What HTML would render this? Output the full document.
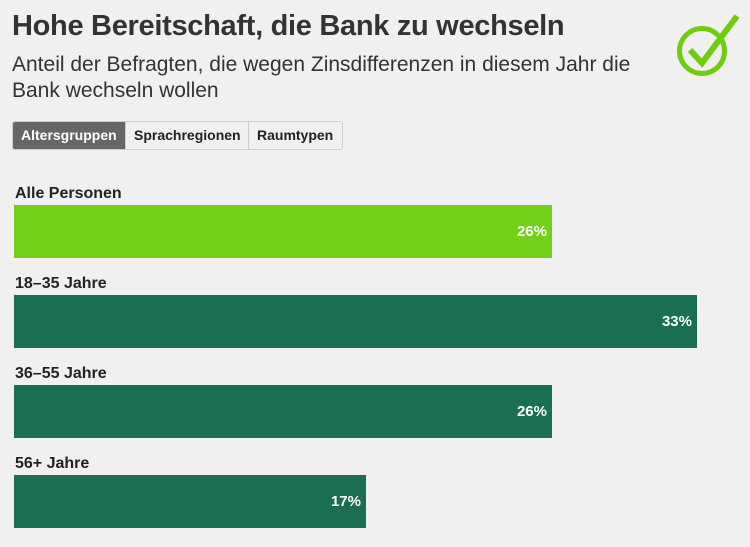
<!DOCTYPE html>
<html><head><meta charset="utf-8"><style>
body{margin:0;width:750px;height:547px;background:#f0f0f0;font-family:"Liberation Sans",sans-serif;position:relative;overflow:hidden;color:#333}
.a{position:absolute}
h1{position:absolute;left:12px;top:10px;margin:0;font-size:29px;font-weight:bold;color:#333;letter-spacing:-0.3px}
.sub{left:12px;top:52px;font-size:21px;line-height:26px;color:#333;width:640px}
.tabs{left:12px;top:121px;height:29px;display:flex;border:1px solid #ccc;border-radius:3px;overflow:hidden;box-sizing:border-box}
.tabs div{font-size:14px;font-weight:bold;padding:0 8px;line-height:27px;border-left:1px solid #ccc;background:#f0f0f0;color:#222}
.tabs div.on{background:#666;color:#fff;border-left:none}
.lab{left:15px;font-size:16px;font-weight:bold;color:#222}
.bar{left:14px;height:53px;background:#1a6f50;color:#fff;font-weight:bold;font-size:15px;text-align:right;line-height:53px;box-sizing:border-box;padding-right:5px}
</style></head><body>
<h1>Hohe Bereitschaft, die Bank zu wechseln</h1>
<div class="a sub">Anteil der Befragten, die wegen Zinsdifferenzen in diesem Jahr die<br>Bank wechseln wollen</div>
<div class="a tabs"><div class="on" style="width:112px;box-sizing:border-box">Altersgruppen</div><div style="width:123px;box-sizing:border-box">Sprachregionen</div><div style="width:94px;box-sizing:border-box">Raumtypen</div></div>
<svg class="a" style="left:670px;top:10px" width="80" height="80" viewBox="670 10 80 80">
<circle cx="702" cy="51" r="22.5" fill="none" stroke="#6fcc0f" stroke-width="5"/>
<path d="M690 50 L702 63 L737 16" fill="none" stroke="#6fcc0f" stroke-width="6" stroke-linejoin="miter"/>
</svg>
<div class="a lab" style="top:185px">Alle Personen</div>
<div class="a bar" style="top:205px;width:538px;background:#74d016">26%</div>
<div class="a lab" style="top:275px">18–35 Jahre</div>
<div class="a bar" style="top:295px;width:683px">33%</div>
<div class="a lab" style="top:365px">36–55 Jahre</div>
<div class="a bar" style="top:385px;width:538px">26%</div>
<div class="a lab" style="top:455px">56+ Jahre</div>
<div class="a bar" style="top:475px;width:352px">17%</div>
</body></html>
